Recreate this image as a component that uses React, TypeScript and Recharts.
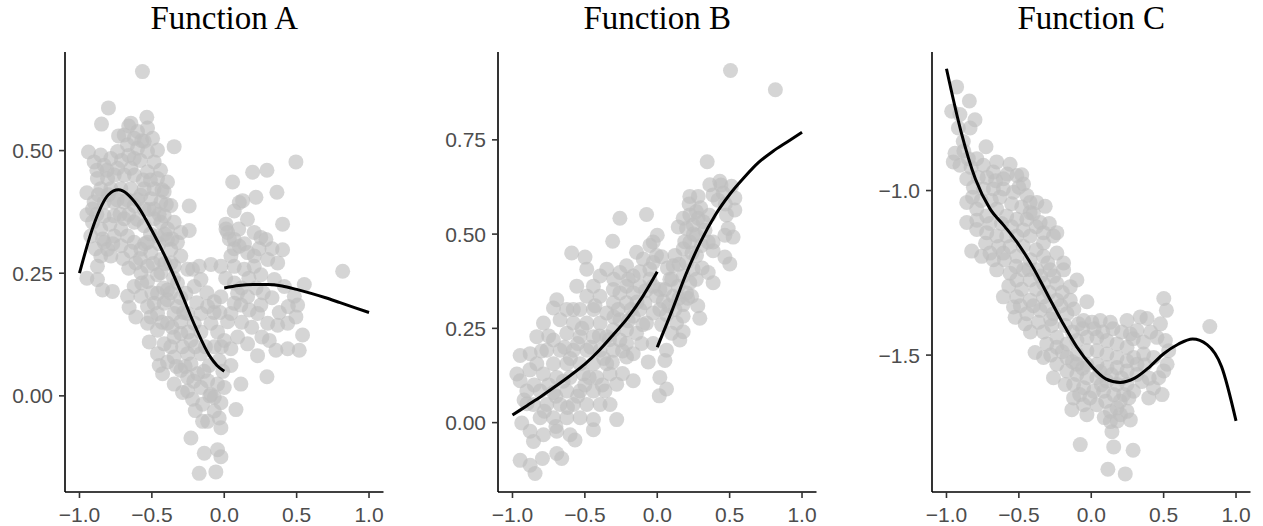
import { ComposedChart, Scatter, Line, XAxis, YAxis } from 'recharts';

// scatter points, [x, y]
const pointsA = [
  [-0.565,0.661],[-0.8,0.587],[-0.848,0.554],[-0.645,0.556],[-0.535,0.568],[-0.346,0.508],[-0.938,0.497],[-0.242,0.387],[-0.242,0.337],[-0.949,0.414],
  [-0.949,0.369],[-0.949,0.24],[-0.876,0.237],[-0.841,0.216],[-0.772,0.213],[-0.668,0.203],[-0.657,0.18],[-0.611,0.161],[-0.53,0.148],[-0.518,0.11],
  [-0.449,0.062],[-0.426,0.045],[-0.346,0.024],[-0.288,0.007],[-0.23,-0.086],[-0.138,-0.117],[-0.173,-0.158],[-0.058,-0.155],[-0.046,-0.11],[-0.023,-0.124],
  [-0.15,-0.052],[-0.035,-0.045],[-0.023,-0.065],[0.081,-0.028],[0.115,0.024],[0.046,0.062],[0.161,0.106],[0.23,0.082],[0.295,0.039],[0.311,0.113],
  [0.357,0.093],[0.438,0.096],[0.518,0.093],[0.541,0.124],[0.495,0.161],[0.507,0.185],[0.484,0.203],[0.553,0.227],[0.442,0.182],[0.438,0.148],
  [0.369,0.144],[0.818,0.254],[0.495,0.477],[0.295,0.46],[0.196,0.456],[0.364,0.415],[0.219,0.405],[0.058,0.436],[0.104,0.394],[0.069,0.377],
  [0.127,0.398],[0.403,0.35],[0.403,0.298],[0.369,0.271],[0.012,0.35],[0.023,0.333],[0.069,0.319],[0.104,0.305],[0.207,0.333],[0.253,0.323],
  [0.288,0.319],[0.161,0.292],[0.207,0.285],[0.3,0.278],[0.046,0.285],[0.069,0.264],[-0.023,0.264],[-0.092,0.268],[-0.173,0.264],[-0.219,0.258],
  [0.138,0.258],[0.207,0.264],[0.253,0.247],[0.346,0.237],[0.415,0.223],[0.092,0.209],[0.161,0.202],[0.253,0.185],[0.115,0.185],[0.173,0.175],
  [0.23,0.168],[0.3,0.148],[0.069,0.189],[0.046,0.168],[0.023,0.151],[-0.023,0.202],[-0.069,0.192],[-0.115,0.182],[-0.161,0.168],[-0.092,0.148],
  [-0.161,0.13],[-0.046,0.13],[0,0.113],[-0.069,0.1],[0.092,0.12],[0.046,0.096],[-0.161,0.086],[-0.23,0.065],[-0.104,0.062],[-0.035,0.072],
  [-0.184,0.045],[-0.115,0.031],[-0.046,0.024],[-0.253,0.038],[0,0.017],[-0.219,-0.007],[-0.15,-0.017],[-0.069,-0.003],[-0.023,-0.014],[-0.3,0.052],
  [-0.346,0.079],[-0.392,0.069],[-0.288,0.1],[-0.346,0.12],[-0.415,0.106],[-0.461,0.134],[-0.392,0.148],[-0.3,0.151],[-0.253,0.168],[-0.323,0.182],
  [-0.415,0.189],[-0.484,0.189],[-0.507,0.161],[-0.461,0.209],[-0.392,0.216],[-0.323,0.23],[-0.265,0.209],[-0.207,0.223],[-0.161,0.237],[-0.253,0.258],
  [-0.346,0.264],[-0.3,0.285],[-0.461,0.247],[-0.53,0.233],[-0.576,0.251],[-0.53,0.264],[-0.611,0.271],[-0.438,0.278],[-0.369,0.299],[-0.323,0.313],
  [-0.3,0.333],[-0.346,0.354],[-0.392,0.34],[-0.461,0.326],[-0.53,0.313],[-0.576,0.299],[-0.622,0.313],[-0.668,0.326],[-0.714,0.34],[-0.76,0.326],
  [-0.806,0.299],[-0.853,0.285],[-0.876,0.264],[-0.922,0.326],[-0.91,0.354],[-0.853,0.34],[-0.83,0.367],[-0.76,0.367],[-0.691,0.361],[-0.622,0.354],
  [-0.553,0.347],[-0.484,0.361],[-0.415,0.367],[-0.369,0.388],[-0.438,0.395],[-0.507,0.402],[-0.576,0.409],[-0.553,0.422],[-0.484,0.422],[-0.415,0.416],
  [-0.392,0.436],[-0.461,0.443],[-0.53,0.457],[-0.484,0.477],[-0.53,0.498],[-0.461,0.501],[-0.495,0.525],[-0.553,0.519],[-0.599,0.505],[-0.622,0.484],
  [-0.645,0.464],[-0.691,0.45],[-0.737,0.464],[-0.783,0.484],[-0.737,0.498],[-0.668,0.512],[-0.691,0.532],[-0.599,0.539],[-0.53,0.546],[-0.622,0.525],
  [-0.853,0.491],[-0.83,0.47],[-0.899,0.477],[-0.876,0.443],[-0.806,0.443],[-0.853,0.422],[-0.783,0.422],[-0.714,0.422],[-0.645,0.422],[-0.691,0.395],
  [-0.76,0.395],[-0.83,0.395],[-0.899,0.395],[-0.91,0.381],[-0.622,0.388],[-0.553,0.381],[-0.484,0.381],[-0.438,0.354],[-0.714,0.306],[-0.645,0.295],
  [-0.783,0.285],[-0.83,0.313],[-0.392,0.319],[-0.507,0.292],[-0.369,0.271],[-0.438,0.251],[-0.392,0.196],[-0.346,0.168],[-0.461,0.168],[-0.53,0.182],
  [-0.576,0.203],[-0.622,0.223],[-0.3,0.127],[-0.23,0.113],[-0.207,0.148],[-0.253,0.086],[-0.369,0.1],[-0.461,0.086],[-0.161,0.017],[-0.253,0.01],
  [-0.092,0.003],[-0.069,-0.031],[-0.115,-0.052],[0.012,0.34],[0.035,0.32],[0.069,0.3],
  [-0.88,0.46],[-0.81,0.46],[-0.76,0.45],[-0.71,0.48],[-0.66,0.49],[-0.58,0.48],[-0.56,0.44],[-0.51,0.44],[-0.44,0.46],[-0.43,0.42],
  [-0.87,0.41],[-0.8,0.41],[-0.74,0.4],[-0.67,0.4],[-0.6,0.4],[-0.52,0.38],[-0.45,0.37],[-0.4,0.39],[-0.88,0.37],[-0.79,0.35],
  [-0.72,0.37],[-0.66,0.37],[-0.6,0.36],[-0.51,0.33],[-0.45,0.31],[-0.41,0.33],[-0.36,0.32],[-0.89,0.3],[-0.84,0.32],[-0.77,0.31],
  [-0.7,0.28],[-0.66,0.26],[-0.58,0.28],[-0.55,0.31],[-0.49,0.27],[-0.41,0.27],[-0.35,0.24],[-0.42,0.22],[-0.5,0.21],[-0.57,0.23],
  [-0.37,0.21],[-0.3,0.2],[-0.28,0.17],[-0.36,0.14],[-0.43,0.15],[-0.25,0.13],[-0.2,0.1],[-0.27,0.06],[-0.33,0.06],[-0.21,0.03],
  [-0.14,0.05],[-0.13,0.1],[-0.19,0.19],[-0.12,0.21],[-0.07,0.17],[-0.03,0.17],[-0.02,0.1],[-0.01,0.05],[-0.1,0.0],[-0.2,-0.03],
  [0.01,0.24],[0.07,0.23],[0.12,0.22],[0.17,0.24],[0.22,0.22],[0.27,0.21],[0.12,0.15],[0.19,0.14],[0.26,0.12],[0.33,0.2],
  [0.38,0.17],[0.14,0.31],[0.24,0.3],[0.33,0.3],[0.1,0.34],[0.16,0.36],[-0.62,0.45],[-0.57,0.52],[-0.66,0.55],[-0.73,0.53],
];

const pointsB = [
  [0.506,0.934],[0.816,0.883],[0.345,0.692],[0.363,0.631],[0.432,0.64],[0.386,0.604],[0.455,0.609],[0.513,0.627],[0.536,0.596],[0.536,0.564],
  [0.478,0.551],[0.49,0.515],[0.524,0.492],[0.467,0.497],[0.386,0.479],[0.386,0.456],[0.467,0.439],[0.501,0.421],[0.352,0.398],[0.386,0.371],
  [0.294,0.277],[0.225,0.6],[0.283,0.6],[0.225,0.551],[0.202,0.515],[0.248,0.524],[0.283,0.542],[0.317,0.533],[0.179,0.542],[0.145,0.519],
  [0.271,0.497],[0.225,0.479],[0.306,0.47],[0.179,0.461],[0.122,0.443],[0.271,0.443],[0.202,0.425],[0.11,0.416],[0.248,0.407],[0.179,0.389],
  [0.087,0.38],[0.225,0.371],[0.145,0.362],[0.053,0.353],[0.202,0.344],[0.11,0.335],[0.041,0.322],[0.179,0.313],[0.122,0.3],[0.064,0.286],
  [0.179,0.282],[0.018,0.3],[0.133,0.264],[0.179,0.241],[0.156,0.219],[0.099,0.237],[0.064,0.192],[0.053,0.165],[0.018,0.12],[0.064,0.089],
  [0.014,0.071],[-0.028,0.21],[-0.062,0.161],[-0.166,0.111],[-0.108,0.21],[-0.166,0.183],[-0.212,0.21],[-0.143,0.237],[-0.074,0.264],[-0.028,0.291],
  [-0.005,0.335],[0.018,0.353],[-0.028,0.362],[-0.051,0.407],[-0.005,0.443],[-0.028,0.479],[0,0.497],[-0.051,0.47],[-0.074,0.552],[-0.097,0.434],
  [-0.143,0.452],[-0.212,0.416],[-0.258,0.542],[-0.308,0.481],[-0.258,0.398],[-0.166,0.389],[-0.12,0.362],[-0.212,0.362],[-0.303,0.353],[-0.349,0.407],
  [-0.395,0.389],[-0.487,0.407],[-0.499,0.439],[-0.591,0.45],[-0.441,0.362],[-0.556,0.362],[-0.487,0.335],[-0.395,0.335],[-0.303,0.318],[-0.212,0.318],
  [-0.12,0.3],[-0.166,0.282],[-0.258,0.273],[-0.349,0.291],[-0.441,0.3],[-0.533,0.3],[-0.625,0.3],[-0.694,0.326],[-0.717,0.304],[-0.671,0.273],
  [-0.579,0.264],[-0.487,0.264],[-0.395,0.264],[-0.303,0.246],[-0.212,0.246],[-0.258,0.219],[-0.349,0.228],[-0.441,0.228],[-0.533,0.228],[-0.625,0.237],
  [-0.717,0.219],[-0.786,0.264],[-0.832,0.228],[-0.878,0.183],[-0.947,0.178],[-0.97,0.129],[-0.947,0.111],[-0.901,0.084],[-0.832,0.156],[-0.763,0.192],
  [-0.671,0.192],[-0.579,0.192],[-0.487,0.192],[-0.395,0.192],[-0.303,0.192],[-0.212,0.174],[-0.349,0.156],[-0.441,0.156],[-0.533,0.156],[-0.625,0.156],
  [-0.717,0.156],[-0.786,0.129],[-0.694,0.12],[-0.602,0.12],[-0.51,0.129],[-0.418,0.12],[-0.326,0.129],[-0.28,0.102],[-0.361,0.084],[-0.441,0.084],
  [-0.533,0.084],[-0.625,0.084],[-0.717,0.08],[-0.809,0.084],[-0.855,0.048],[-0.763,0.048],[-0.671,0.048],[-0.579,0.048],[-0.487,0.048],[-0.395,0.048],
  [-0.326,0.048],[-0.28,0.008],[-0.441,0.008],[-0.533,0.013],[-0.625,0.013],[-0.717,0.013],[-0.809,0.013],[-0.936,-0.001],[-0.878,-0.023],[-0.786,-0.032],
  [-0.694,-0.023],[-0.602,-0.032],[-0.568,-0.046],[-0.441,-0.019],[-0.855,-0.05],[-0.947,-0.1],[-0.878,-0.113],[-0.844,-0.135],[-0.793,-0.095],[-0.694,-0.082],
  [-0.66,-0.095],[-0.028,0.425],[-0.166,0.344],[-0.085,0.318],[-0.258,0.344],[0.352,0.479],[0.237,0.335],
  [-0.9,0.05],[-0.85,0.1],[-0.75,0.1],[-0.7,0.07],[-0.65,0.11],[-0.6,0.17],[-0.55,0.21],[-0.5,0.1],[-0.46,0.2],[-0.4,0.23],
  [-0.37,0.17],[-0.33,0.22],[-0.3,0.28],[-0.27,0.3],[-0.24,0.19],[-0.2,0.27],[-0.18,0.3],[-0.14,0.32],[-0.1,0.26],[-0.08,0.35],
  [-0.05,0.38],[-0.12,0.4],[-0.2,0.38],[-0.3,0.38],[-0.43,0.31],[-0.52,0.25],[-0.58,0.3],[-0.64,0.2],[-0.75,0.23],[-0.8,0.19],
  [-0.88,0.14],[-0.92,0.06],[-0.78,0.03],[-0.7,-0.01],[-0.62,0.04],[-0.55,0.07],[-0.47,0.12],[-0.38,0.1],[-0.31,0.16],[-0.24,0.13],
  [0.03,0.26],[0.08,0.31],[0.1,0.38],[0.15,0.33],[0.15,0.42],[0.19,0.48],[0.24,0.45],[0.25,0.5],[0.27,0.56],[0.22,0.58],
  [0.3,0.57],[0.33,0.51],[0.36,0.55],[0.42,0.59],[0.44,0.63],[0.47,0.58],[0.31,0.41],[0.27,0.38],[0.21,0.33],[0.28,0.31],
  [0.07,0.41],[0.03,0.44],
];

const pointsC = [
  [-0.93,-0.685],[-0.842,-0.728],[-0.964,-0.759],[-0.907,-0.769],[-0.803,-0.785],[-0.837,-0.81],[-0.727,-0.867],[-0.941,-0.887],[-0.907,-0.923],[-0.849,-0.903],
  [-0.791,-0.903],[-0.745,-0.923],[-0.653,-0.913],[-0.561,-0.92],[-0.676,-0.944],[-0.607,-0.964],[-0.514,-0.954],[-0.48,-0.952],[-0.86,-0.964],[-0.814,-0.99],
  [-0.745,-0.995],[-0.676,-0.995],[-0.607,-0.995],[-0.537,-1.005],[-0.445,-1.015],[-0.422,-1.036],[-0.318,-1.048],[-0.86,-1.036],[-0.791,-1.056],[-0.722,-1.077],
  [-0.653,-1.056],[-0.584,-1.077],[-0.514,-1.087],[-0.445,-1.087],[-0.353,-1.097],[-0.86,-1.097],[-0.791,-1.118],[-0.722,-1.128],[-0.653,-1.138],[-0.584,-1.138],
  [-0.514,-1.138],[-0.422,-1.138],[-0.33,-1.159],[-0.261,-1.138],[-0.826,-1.184],[-0.757,-1.2],[-0.676,-1.21],[-0.699,-1.19],[-0.607,-1.19],[-0.514,-1.2],
  [-0.422,-1.21],[-0.33,-1.2],[-0.238,-1.19],[-0.653,-1.241],[-0.561,-1.251],[-0.468,-1.241],[-0.376,-1.241],[-0.284,-1.241],[-0.191,-1.241],[-0.099,-1.272],
  [-0.514,-1.272],[-0.422,-1.272],[-0.33,-1.282],[-0.238,-1.282],[-0.145,-1.292],[-0.607,-1.323],[-0.514,-1.323],[-0.422,-1.333],[-0.33,-1.323],[-0.238,-1.333],
  [-0.145,-1.333],[-0.03,-1.338],[-0.537,-1.354],[-0.445,-1.374],[-0.353,-1.364],[-0.261,-1.374],[-0.168,-1.374],[-0.526,-1.385],[-0.457,-1.405],[-0.365,-1.4],
  [-0.272,-1.41],[-0.18,-1.41],[-0.088,-1.405],[0.005,-1.4],[0.062,-1.395],[0.132,-1.4],[0.247,-1.395],[0.339,-1.384],[0.385,-1.389],[0.501,-1.328],
  [0.519,-1.364],[0.478,-1.405],[0.819,-1.413],[0.316,-1.425],[0.27,-1.436],[0.454,-1.446],[0.512,-1.456],[0.535,-1.487],[0.524,-1.528],[0.501,-1.548],
  [0.466,-1.569],[0.489,-1.62],[0.397,-1.63],[0.431,-1.507],[0.362,-1.497],[0.293,-1.507],[0.247,-1.476],[0.178,-1.466],[0.108,-1.456],[0.039,-1.446],
  [-0.03,-1.446],[-0.099,-1.456],[-0.168,-1.466],[-0.238,-1.476],[-0.307,-1.466],[-0.388,-1.492],[-0.33,-1.507],[-0.238,-1.528],[-0.261,-1.569],[-0.168,-1.507],
  [-0.099,-1.497],[-0.03,-1.487],[0.039,-1.487],[0.108,-1.497],[0.178,-1.507],[0.247,-1.518],[0.316,-1.528],[0.316,-1.559],[0.247,-1.548],[0.178,-1.538],
  [0.108,-1.538],[0.039,-1.528],[-0.03,-1.528],[-0.099,-1.528],[-0.168,-1.548],[-0.099,-1.559],[-0.03,-1.569],[0.039,-1.569],[0.108,-1.579],[0.178,-1.589],
  [0.247,-1.589],[0.293,-1.61],[0.224,-1.62],[0.155,-1.62],[0.085,-1.61],[0.016,-1.61],[-0.053,-1.599],[-0.122,-1.589],[-0.18,-1.589],[-0.122,-1.63],
  [-0.134,-1.666],[-0.053,-1.651],[-0.03,-1.681],[0.039,-1.651],[0.132,-1.671],[0.178,-1.661],[0.247,-1.671],[0.27,-1.697],[0.201,-1.681],[0.132,-1.702],
  [0.143,-1.733],[0.155,-1.779],[0.289,-1.789],[-0.076,-1.772],[0.115,-1.847],[0.235,-1.861],[-0.238,-1.446],[-0.053,-1.395],[-0.953,-0.913],[-0.884,-0.851],
  [-0.918,-0.81],[-0.422,-1.067],[-0.376,-1.036],[-0.468,-0.98],[-0.33,-1.128],[-0.238,-1.128],[-0.191,-1.22],
  [-0.88,-0.88],[-0.83,-0.93],[-0.78,-0.96],[-0.72,-0.96],[-0.66,-0.97],[-0.58,-0.95],[-0.5,-0.99],[-0.82,-1.02],[-0.76,-1.03],[-0.69,-1.03],
  [-0.63,-1.02],[-0.55,-1.04],[-0.48,-1.05],[-0.4,-1.07],[-0.79,-1.09],[-0.7,-1.1],[-0.62,-1.1],[-0.55,-1.11],[-0.47,-1.12],[-0.38,-1.11],
  [-0.29,-1.1],[-0.73,-1.16],[-0.64,-1.17],[-0.56,-1.17],[-0.47,-1.17],[-0.38,-1.18],[-0.3,-1.22],[-0.6,-1.21],[-0.52,-1.23],[-0.43,-1.24],
  [-0.35,-1.26],[-0.26,-1.26],[-0.57,-1.29],[-0.48,-1.3],[-0.38,-1.3],[-0.29,-1.31],[-0.2,-1.31],[-0.49,-1.35],[-0.4,-1.35],[-0.31,-1.35],
  [-0.21,-1.35],[-0.12,-1.36],[-0.42,-1.43],[-0.33,-1.43],[-0.28,-1.39],[-0.13,-1.43],[-0.06,-1.42],[0.02,-1.42],[0.08,-1.43],[0.15,-1.42],
  [0.21,-1.43],[0.29,-1.45],[0.36,-1.46],[0.41,-1.43],[0.37,-1.53],[0.4,-1.57],[0.43,-1.6],[0.35,-1.58],[0.21,-1.57],[0.14,-1.56],
  [0.06,-1.55],[-0.06,-1.54],[-0.13,-1.52],[-0.2,-1.49],[-0.28,-1.5],[0.07,-1.59],[0.2,-1.64],[0.26,-1.63],[0.1,-1.64],[-0.01,-1.63],
  [-0.08,-1.62],[0.09,-1.69],[0.18,-1.7],
];

// fitted curves, [x, y]
const curveA1 = [[-1,0.25],[-0.9,0.35],[-0.8,0.41],[-0.73,0.42],[-0.6,0.388],[-0.5,0.337],[-0.4,0.279],[-0.3,0.212],[-0.2,0.141],[-0.1,0.081],[-0.05,0.062],[0,0.05]];
const curveA2 = [[0,0.22],[0.1,0.225],[0.2,0.227],[0.3,0.227],[0.4,0.224],[0.5,0.217],[0.6,0.209],[0.7,0.2],[0.8,0.19],[0.9,0.18],[1,0.17]];
const curveB1 = [[-1,0.02],[-0.9,0.045],[-0.8,0.07],[-0.7,0.097],[-0.6,0.125],[-0.5,0.155],[-0.4,0.192],[-0.3,0.235],[-0.2,0.28],[-0.1,0.335],[0,0.4]];
const curveB2 = [[0,0.2],[0.1,0.295],[0.2,0.395],[0.3,0.48],[0.4,0.55],[0.5,0.605],[0.6,0.65],[0.7,0.69],[0.8,0.72],[0.9,0.745],[1,0.77]];
const curveC = [[-1,-0.63],[-0.9,-0.82],[-0.8,-0.965],[-0.7,-1.055],[-0.6,-1.108],[-0.5,-1.165],[-0.4,-1.235],[-0.3,-1.318],[-0.2,-1.4],[-0.1,-1.475],[0,-1.532],
  [0.1,-1.572],[0.2,-1.583],[0.3,-1.57],[0.4,-1.537],[0.5,-1.496],[0.6,-1.467],[0.7,-1.451],[0.8,-1.468],[0.9,-1.535],[1,-1.7]];

const xTicks = [-1, -0.5, 0, 0.5, 1];
const yTicksA = [0, 0.25, 0.5];
const yTicksB = [0, 0.25, 0.5, 0.75];
const yTicksC = [-1.5, -1.0];

const toXY = (arr: number[][]) => arr.map(([x, y]) => ({ x, y }));

const fmt = (digits: number) => (v: number) =>
  v < 0 ? '\u2212' + Math.abs(v).toFixed(digits) : v.toFixed(digits);

const Dot = (props: any) => (
  <circle cx={props.cx} cy={props.cy} r={7.5} fill="#BEBEBE" fillOpacity={0.65} />
);

const tickStyle = { fill: '#4D4D4D', fontSize: 21, fontFamily: 'Liberation Sans, Arial, sans-serif' };
const X_DOMAIN: [number, number] = [-1.1, 1.1];
const PLOT_W = 318.5;
const H = 526;

interface PanelProps {
  left: number;
  yWidth: number;
  rightMargin: number;
  title: string;
  points: number[][];
  curves: number[][][];
  yDomain: [number, number];
  yTicks: number[];
  yDigits: number;
}

function Panel({ left, yWidth, rightMargin, title, points, curves, yDomain, yTicks, yDigits }: PanelProps) {
  const width = yWidth + PLOT_W + rightMargin;
  return (
    <div style={{ position: 'absolute', left, top: 0, width, height: H }}>
      <div
        style={{
          position: 'absolute',
          left: yWidth,
          width: PLOT_W,
          top: 2,
          textAlign: 'center',
          fontFamily: 'Liberation Serif, Times New Roman, serif',
          fontSize: 33,
          lineHeight: '33px',
          color: '#000',
        }}
      >
        {title}
      </div>
      {/* points + axes */}
      <div style={{ position: 'absolute', left: 0, top: 0 }}>
        <ComposedChart width={width} height={H} margin={{ top: 52, right: rightMargin, bottom: 0, left: 0 }}>
          <XAxis
            type="number"
            dataKey="x"
            domain={X_DOMAIN}
            allowDataOverflow
            ticks={xTicks}
            tickFormatter={fmt(1)}
            height={34}
            tick={tickStyle}
            tickSize={6}
            tickMargin={9}
            axisLine={{ stroke: '#000', strokeWidth: 1.6 }}
            tickLine={{ stroke: '#333', strokeWidth: 1.6 }}
          />
          <YAxis
            type="number"
            dataKey="y"
            domain={yDomain}
            allowDataOverflow
            ticks={yTicks}
            tickFormatter={fmt(yDigits)}
            width={yWidth}
            tick={tickStyle}
            tickSize={6}
            tickMargin={6}
            axisLine={{ stroke: '#000', strokeWidth: 1.6 }}
            tickLine={{ stroke: '#333', strokeWidth: 1.6 }}
          />
          <Scatter data={toXY(points)} shape={Dot} isAnimationActive={false} />
        </ComposedChart>
      </div>
      {/* fitted lines drawn on top */}
      <div style={{ position: 'absolute', left: 0, top: 0 }}>
        <ComposedChart width={width} height={H} margin={{ top: 52, right: rightMargin, bottom: 34, left: yWidth }}>
          <XAxis type="number" dataKey="x" domain={X_DOMAIN} allowDataOverflow hide />
          <YAxis type="number" dataKey="y" domain={yDomain} allowDataOverflow hide />
          {curves.map((c, i) => (
            <Line
              key={i}
              data={toXY(c)}
              dataKey="y"
              type="monotone"
              stroke="#000"
              strokeWidth={3}
              dot={false}
              activeDot={false}
              isAnimationActive={false}
            />
          ))}
        </ComposedChart>
      </div>
    </div>
  );
}

export default function App() {
  return (
    <div style={{ position: 'absolute', left: 0, top: 0, width: 1263, height: H, background: '#fff' }}>
      <Panel left={0} yWidth={65} rightMargin={37.5} title="Function A" points={pointsA}
        curves={[curveA1, curveA2]} yDomain={[-0.196, 0.701]} yTicks={yTicksA} yDigits={2} />
      <Panel left={421} yWidth={77} rightMargin={25} title="Function B" points={pointsB}
        curves={[curveB1, curveB2]} yDomain={[-0.184, 0.983]} yTicks={yTicksB} yDigits={2} />
      <Panel left={842} yWidth={90} rightMargin={2.5} title="Function C" points={pointsC}
        curves={[curveC]} yDomain={[-1.916, -0.579]} yTicks={yTicksC} yDigits={1} />
    </div>
  );
}
